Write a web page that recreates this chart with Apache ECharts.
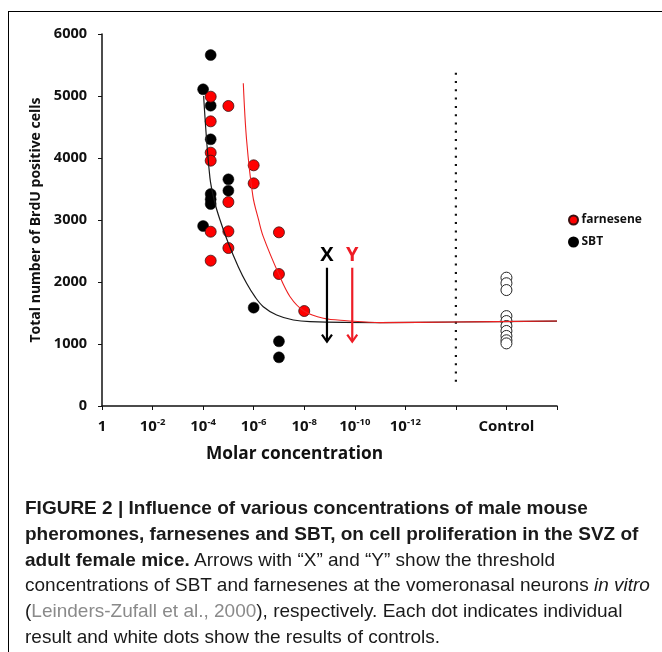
<!DOCTYPE html>
<html>
<head>
<meta charset="utf-8">
<script src="https://cdn.jsdelivr.net/npm/echarts@6/dist/echarts.min.js"></script>
<style>
  html, body { margin: 0; padding: 0; background: #fff; }
  #wrap { position: relative; width: 662px; height: 652px; overflow: hidden; }
  #frame { position: absolute; left: 8px; top: 11px; right: 0; bottom: 0;
           border-top: 1px solid #000; border-left: 1px solid #000; }
  #chart { position: absolute; left: 0; top: 0; width: 662px; height: 652px; }
  #caption { position: absolute; left: 25px; top: 495px; white-space: nowrap;
             font-family: "Liberation Sans", Arial, sans-serif; font-size: 19px;
             line-height: 25.8px; color: #1a1a1a; }
  #caption b { font-weight: 700; }
  #caption .ref { color: #8a8a8a; }
</style>
</head>
<body>
<div id="wrap">
  <div id="frame"></div>
  <div id="chart"></div>
  <div id="caption">
    <b>FIGURE 2 | Influence of various concentrations of male mouse</b><br>
    <b>pheromones, farnesenes and SBT, on cell proliferation in the SVZ of</b><br>
    <b>adult female mice.</b> Arrows with “X” and “Y” show the threshold<br>
    concentrations of SBT and farnesenes at the vomeronasal neurons <i>in vitro</i><br>
    (<span class="ref">Leinders-Zufall et al., 2000</span>), respectively. Each dot indicates individual<br>
    result and white dots show the results of controls.
  </div>
</div>
<script>
// ---- data (x = negative log10 of molar concentration) ----
const tickExponents = [0, 2, 4, 6, 8, 10, 12, 14, 16, 18];
const tickLabels = ['1', '10^-2', '10^-4', '10^-6', '10^-8', '10^-10', '10^-12', '', 'Control', ''];

const farneseneX = [4.3, 5, 4.3, 4.3, 4.3, 6, 6, 5, 4.3, 5, 7, 5, 4.3, 7, 8];
const farneseneY = [4989, 4839, 4591, 4086, 3957, 3882, 3591, 3290, 2811, 2817, 2801, 2548, 2344, 2129, 1532];

const sbtX = [4.3, 4, 4.3, 4.3, 5, 5, 4.3, 4.3, 4.3, 4, 6, 7, 7];
const sbtY = [5661, 5108, 4844, 4301, 3656, 3473, 3419, 3333, 3258, 2903, 1586, 1043, 785];

const controlX = 16;
const controlY = [2070, 1980, 1870, 1450, 1370, 1290, 1210, 1130, 1060, 1010];

const sbtCurveX = [4.02, 4.27, 4.47, 4.67, 5.0, 5.39, 5.72, 6.05, 6.38, 6.91, 7.57, 8.23, 11, 14, 18];
const sbtCurveY = [5000, 3680, 3270, 3000, 2624, 2247, 1979, 1763, 1602, 1468, 1387, 1360, 1345, 1355, 1370];

const farneseneCurveX = [5.59, 5.72, 5.97, 6.19, 6.38, 6.99, 7.44, 7.99, 8.76, 9.68, 11, 14, 18];
const farneseneCurveY = [5205, 4290, 3380, 3010, 2731, 2129, 1763, 1532, 1414, 1376, 1344, 1355, 1370];

const dividerX = 14;
const dividerY = [390, 5380];

const arrowLabels = ['X', 'Y'];
const arrowX = [8.9, 9.9];
const arrowTop = [2230, 2230];
const arrowTip = [1040, 1040];

// ---- build ----
const FONT = '"Open Sans", "Liberation Sans", sans-serif';
const zip = (xs, ys) => ys.map((y, i) => [Array.isArray(xs) ? xs[i] : xs, y]);
const arrowColors = ['#000000', '#ee1c25'];

function tickFormatter(v) {
  const i = tickExponents.indexOf(Math.round(v));
  if (i < 0) return '';
  const t = tickLabels[i];
  if (!t) return '';
  if (t.indexOf('^') >= 0) {
    const parts = t.split('^');
    return '{b|' + parts[0] + '}{s|' + parts[1] + '}';
  }
  return '{b|' + t + '}';
}

const chart = echarts.init(document.getElementById('chart'), null, { renderer: 'canvas' });
chart.setOption({
  animation: false,
  textStyle: { fontFamily: FONT },
  grid: { left: 102, top: 34, width: 455, height: 372, containLabel: false },
  legend: {
    data: ['farnesene', 'SBT'],
    orient: 'vertical',
    left: 563, top: 209,
    itemWidth: 9, itemHeight: 9, itemGap: 10,
    icon: 'circle',
    textStyle: { fontFamily: FONT, fontWeight: 'bold', fontSize: 12, color: '#111', padding: [0, 0, 0, -1.5] }
  },
  graphic: [{
    type: 'text', left: 206, top: 446,
    style: { text: 'Molar concentration', font: 'bold 17.3px ' + FONT, fill: '#111' }
  }],
  xAxis: {
    type: 'value', min: 0, max: 18, interval: 2,
    splitLine: { show: false },
    axisLine: { lineStyle: { color: '#111', width: 1.5 } },
    axisTick: { length: 4, lineStyle: { color: '#111', width: 1 } },
    axisLabel: {
      margin: 11, formatter: tickFormatter, showMinLabel: true, showMaxLabel: true,
      rich: {
        b: { fontFamily: FONT, fontWeight: 'bold', fontSize: 15, color: '#111', lineHeight: 20 },
        s: { fontFamily: FONT, fontWeight: 'bold', fontSize: 9.5, color: '#111', verticalAlign: 'top', lineHeight: 20 }
      }
    }
  },
  yAxis: {
    type: 'value', min: 0, max: 6000, interval: 1000,
    name: 'Total number of BrdU positive cells',
    nameLocation: 'middle', nameGap: 54, nameRotate: 90,
    nameTextStyle: { fontFamily: FONT, fontWeight: 'bold', fontSize: 14, color: '#111' },
    splitLine: { show: false },
    axisLine: { show: true, lineStyle: { color: '#111', width: 1.5 } },
    axisTick: { show: true, length: 4, lineStyle: { color: '#111', width: 1 } },
    axisLabel: { margin: 15, fontFamily: FONT, fontWeight: 'bold', fontSize: 14.5, color: '#111',
                 formatter: v => String(v) }
  },
  series: [
    {
      name: 'divider', type: 'line', data: zip(dividerX, dividerY), symbol: 'none', silent: true,
      lineStyle: { color: '#111', width: 2.2, type: [2, 6.3], cap: 'butt' }, z: 1
    },
    {
      name: 'Control', type: 'scatter', data: zip(controlX, controlY), symbolSize: 11,
      itemStyle: { color: '#fff', borderColor: '#222', borderWidth: 1, opacity: 1 }, z: 2
    },
    {
      name: 'SBT', type: 'scatter', data: zip(sbtX, sbtY), symbolSize: 11,
      itemStyle: { color: '#000', borderColor: '#000', borderWidth: 0.5, opacity: 1 }, z: 3
    },
    {
      name: 'farnesene', type: 'scatter', data: zip(farneseneX, farneseneY), symbolSize: 11,
      itemStyle: { color: '#ff0000', borderColor: '#3a1010', borderWidth: 0.8, opacity: 1 }, z: 4
    },
    {
      name: 'sbtFit', type: 'line', data: zip(sbtCurveX, sbtCurveY), symbol: 'none', smooth: 0.35,
      lineStyle: { color: '#1a1a1a', width: 1.2 }, z: 5, silent: true
    },
    {
      name: 'farneseneFit', type: 'line', data: zip(farneseneCurveX, farneseneCurveY), symbol: 'none', smooth: 0.35,
      lineStyle: { color: '#ee2020', width: 1.1 }, z: 6, silent: true
    },
    {
      name: 'arrows', type: 'custom', z: 7, silent: true,
      data: arrowX.map((x, i) => [x, arrowTop[i], arrowTip[i]]),
      encode: { x: 0, y: [1, 2] },
      renderItem: function (params, api) {
        const i = params.dataIndex;
        const c = arrowColors[i];
        const p1 = api.coord([api.value(0), api.value(1)]);
        const p2 = api.coord([api.value(0), api.value(2)]);
        return {
          type: 'group',
          children: [
            { type: 'line', shape: { x1: p1[0], y1: p1[1], x2: p2[0], y2: p2[1] - 1 },
              style: { stroke: c, lineWidth: 2.2 } },
            { type: 'polyline', shape: { points: [[p2[0] - 5, p2[1] - 7], [p2[0], p2[1]], [p2[0] + 5, p2[1] - 7]] },
              style: { stroke: c, lineWidth: 2.2, fill: null } },
            { type: 'text', x: p1[0], y: p1[1] - 12,
              style: { text: arrowLabels[i], fill: c, font: 'bold 20px ' + FONT, align: 'center', verticalAlign: 'middle' } }
          ]
        };
      }
    }
  ]
});
</script>
</body>
</html>
